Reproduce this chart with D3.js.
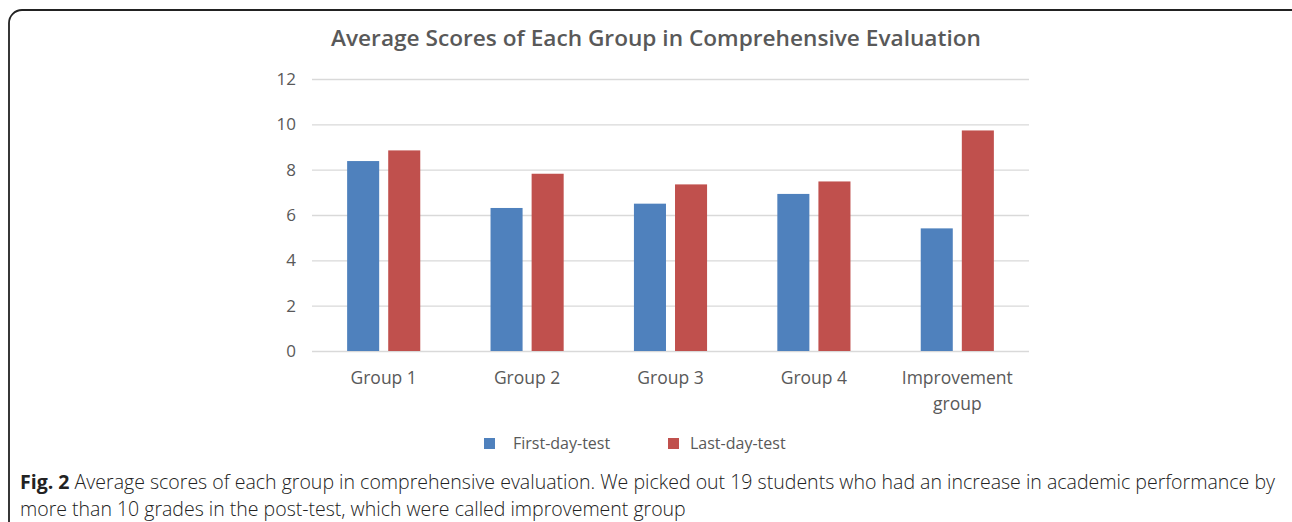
<!DOCTYPE html>
<html>
<head>
<meta charset="utf-8">
<script src="https://cdn.jsdelivr.net/npm/d3@7"></script>
<style>
  body { margin: 0; background: #fff; }
  svg { display: block; }
</style>
</head>
<body>
<div class="chart"></div>
<script>
// chart data
const groups = ['Group 1', 'Group 2', 'Group 3', 'Group 4', 'Improvement group'];
const series = ['First-day-test', 'Last-day-test'];
const firstDay = [8.38, 6.31, 6.50, 6.93, 5.41];
const lastDay = [8.85, 7.82, 7.35, 7.48, 9.73];
const yTicks = [0, 2, 4, 6, 8, 10, 12];
const colors = ['#4f81bd', '#c0504d'];

const width = 1292;
const height = 522;
const textGrey = '#595959';

const svg = d3.select('.chart')
    .append('svg')
    .attr('width', width)
    .attr('height', height);

// figure frame with rounded corner (runs off right/bottom edge)
svg.append('rect')
    .attr('x', 9).attr('y', 10)
    .attr('width', 1300).attr('height', 560)
    .attr('rx', 13)
    .attr('fill', 'none')
    .attr('stroke', '#222')
    .attr('stroke-width', 1.8);

// title
svg.append('text')
    .attr('x', 656).attr('y', 46)
    .attr('text-anchor', 'middle')
    .attr('font-family', 'Open Sans')
    .attr('font-weight', 600)
    .attr('font-size', 21)
    .attr('textLength', 650)
    .attr('lengthAdjust', 'spacingAndGlyphs')
    .attr('fill', textGrey)
    .text('Average Scores of Each Group in Comprehensive Evaluation');

// scales
const x0 = d3.scaleBand().domain(groups).range([312, 1029]).padding(0);
const x1 = d3.scaleBand().domain(series)
    .range([x0.bandwidth() * 0.245, x0.bandwidth() * 0.755])
    .paddingInner(0.22);
const y = d3.scaleLinear().domain([0, 12]).range([351, 79]);

// gridlines + y labels
const yAxis = d3.axisLeft(y).tickValues(yTicks)
    .tickSize(-(1029 - 312)).tickPadding(16);
const gy = svg.append('g')
    .attr('transform', 'translate(312,0)')
    .call(yAxis);
gy.select('.domain').remove();
gy.selectAll('.tick line').attr('stroke', '#d9d9d9').attr('stroke-width', 1.3);
gy.selectAll('.tick text')
    .attr('font-family', 'Open Sans')
    .attr('font-size', 17)
    .attr('fill', textGrey);

// bars
const rows = groups.map((g, i) => ({ group: g, values: [firstDay[i], lastDay[i]] }));
const gBars = svg.selectAll('.grp')
    .data(rows)
    .enter()
    .append('g')
    .attr('transform', d => 'translate(' + x0(d.group) + ',0)');
gBars.selectAll('rect')
    .data(d => d.values.map((v, j) => ({ s: series[j], v: v, c: colors[j] })))
    .enter()
    .append('rect')
    .attr('x', d => x1(d.s))
    .attr('y', d => y(d.v))
    .attr('width', x1.bandwidth())
    .attr('height', d => y(0) - y(d.v))
    .attr('fill', d => d.c);

// category labels (wrap the long one)
const xlab = svg.selectAll('.xlab')
    .data(groups)
    .enter()
    .append('text')
    .attr('class', 'xlab')
    .attr('text-anchor', 'middle')
    .attr('font-family', 'Open Sans')
    .attr('font-size', 17.5)
    .attr('fill', textGrey);
xlab.each(function(d){
    const words = d === 'Improvement group' ? ['Improvement', 'group'] : [d];
    const t = d3.select(this);
    words.forEach((w, k) => {
        t.append('tspan')
            .attr('x', x0(d) + x0.bandwidth() / 2)
            .attr('y', 384 + k * 26)
            .text(w);
    });
});

// legend
const legX = [484, 668];
const leg = svg.selectAll('.leg')
    .data(series)
    .enter()
    .append('g')
    .attr('transform', (d, i) => 'translate(' + legX[i] + ',438)');
leg.append('rect')
    .attr('width', 11).attr('height', 11)
    .attr('fill', (d, i) => colors[i]);
leg.append('text')
    .attr('x', (d, i) => i === 0 ? 29 : 22)
    .attr('y', 10.5)
    .attr('font-family', 'Open Sans')
    .attr('font-size', 16)
    .attr('fill', textGrey)
    .text(d => d);

// caption
const cap = svg.append('text')
    .attr('x', 20).attr('y', 489)
    .attr('font-family', 'Open Sans')
    .attr('font-size', 19.5)
    .attr('textLength', 1255)
    .attr('lengthAdjust', 'spacingAndGlyphs')
    .attr('fill', '#222');
cap.append('tspan').attr('font-weight', 700).text('Fig. 2');
cap.append('tspan').attr('font-weight', 300)
    .text(' Average scores of each group in comprehensive evaluation. We picked out 19 students who had an increase in academic performance by');
svg.append('text')
    .attr('x', 20).attr('y', 516)
    .attr('font-family', 'Open Sans')
    .attr('font-size', 19.5)
    .attr('font-weight', 300)
    .attr('fill', '#222')
    .text('more than 10 grades in the post-test, which were called improvement group');
</script>
</body>
</html>
